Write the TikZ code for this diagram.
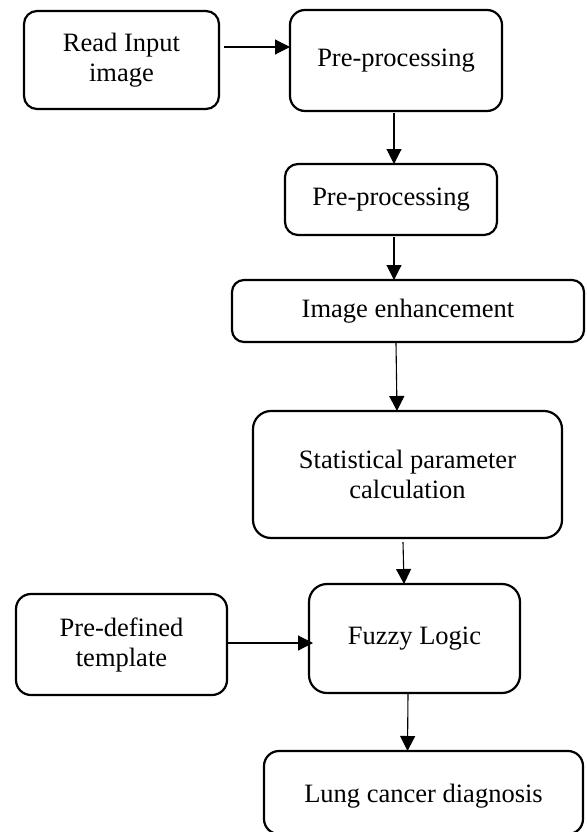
\documentclass[tikz,border=0pt]{standalone}
\usepackage{fontspec}
\setmainfont{Liberation Serif}
\usetikzlibrary{arrows.meta}
\tikzset{
  box/.style={draw=black, line width=2.2pt, rounded corners=13pt, align=center,
    font=\fontsize{26.5}{30}\selectfont, inner sep=0pt, outer sep=0pt},
  arr/.style={draw=black, line width=1.1pt, -{Triangle[length=15pt,width=15pt]}}
}
\begin{document}
\begin{tikzpicture}[x=1pt,y=-1pt]
\useasboundingbox (0,0) rectangle (586,832);
\node[box, minimum width=195pt, minimum height=98pt] (b1) at (121.5,60) {Read Input\\image};
\node[box, minimum width=212pt, minimum height=101pt, rounded corners=15pt] (b2) at (396,60.5) {Pre-processing};
\node[box, minimum width=212pt, minimum height=71pt] (b3) at (391,199.5) {Pre-processing};
\node[box, minimum width=352pt, minimum height=62pt, rounded corners=12pt] (b4) at (408,311) {Image enhancement};
\node[box, minimum width=309pt, minimum height=127pt, rounded corners=18pt] (b5) at (407.5,474.5) {Statistical parameter\\calculation};
\node[box, minimum width=211pt, minimum height=101pt, rounded corners=15pt] (b6) at (121.5,644.5) {Pre-defined\\template};
\node[box, minimum width=211pt, minimum height=109pt, rounded corners=18pt] (b7) at (414.5,638.5) {Fuzzy Logic};
\node[box, minimum width=319pt, minimum height=83pt, rounded corners=15pt] (b8) at (423.5,792.5) {\raisebox{-3.5pt}[\height][\depth]{Lung cancer diagnosis}};

\draw[arr] ([xshift=5pt,yshift=13pt]b1.east) -- ([yshift=13.5pt]b2.west);
\draw[arr] ([xshift=-2pt,yshift=-2pt]b2.south) -- ([xshift=3pt]b3.north);
\draw[arr] ([xshift=3pt,yshift=-2pt]b3.south) -- ([xshift=-14pt]b4.north);
\draw[arr] ([xshift=-12pt,yshift=-1pt]b4.south) -- ([xshift=-10.5pt]b5.north);
\draw[arr] ([xshift=-4.5pt,yshift=-4pt]b5.south) -- ([xshift=-10.5pt]b7.north);
\draw[arr] ([xshift=1pt,yshift=1.5pt]b6.east) -- ([xshift=4pt,yshift=-4.5pt]b7.west);
\draw[arr] ([xshift=-6.5pt,yshift=-1pt]b7.south) -- ([xshift=-16pt]b8.north);
\end{tikzpicture}
\end{document}
